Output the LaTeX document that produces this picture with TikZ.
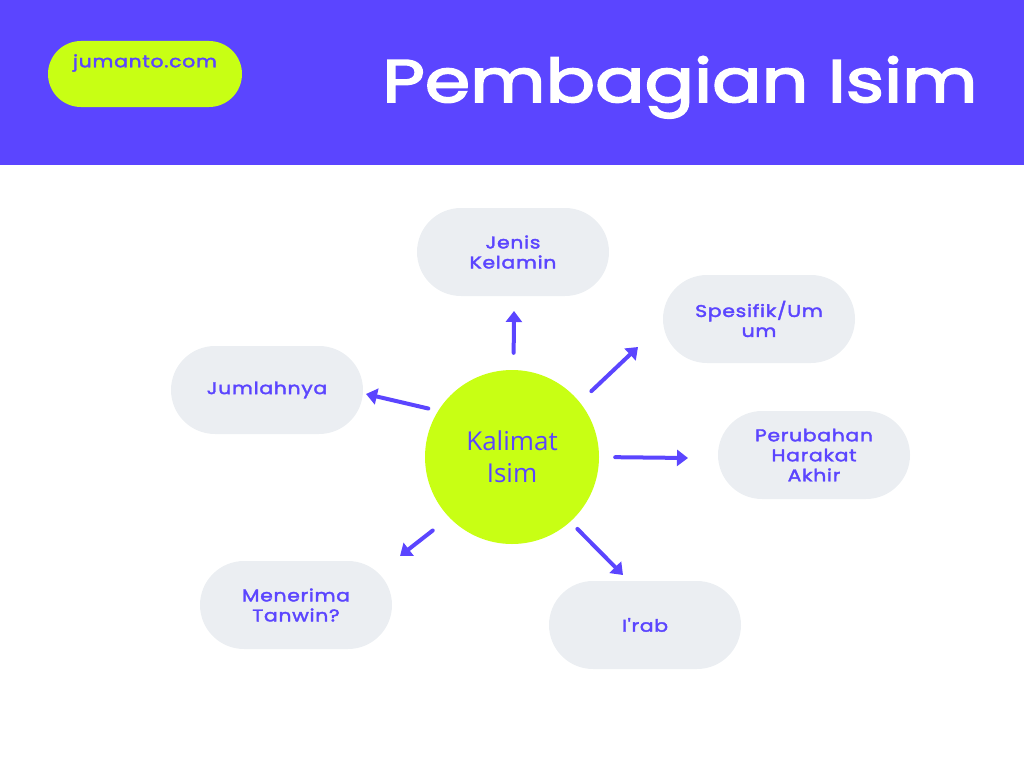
\documentclass[tikz,border=0pt]{standalone}
\usepackage{fontspec}
\setmainfont{Poppins}
\newfontfamily\titlefont{Poppins}[FakeStretch=1.22,FakeBold=3]
\newfontfamily\pillfont{Poppins}[FakeStretch=1.2,LetterSpace=4,FakeBold=2.2]
\newfontfamily\centrefont{Open Sans}
\usetikzlibrary{arrows.meta}

\definecolor{jviolet}{HTML}{5B45FF}
\definecolor{jlime}{HTML}{C8FF14}
\definecolor{jgrey}{HTML}{EBEEF2}

\begin{document}
\begin{tikzpicture}[
    x=1pt, y=-1pt,
    pill/.style={rectangle, rounded corners=44pt, fill=jgrey, minimum width=192pt, minimum height=88pt, align=center, text=jviolet, font=\pillfont\fontsize{17}{20}\selectfont},
    site/.style={rectangle, rounded corners=33pt, fill=jlime, minimum width=194pt, minimum height=66pt},
    hub/.style={circle, fill=jlime, minimum size=174pt, inner sep=0pt, align=center, text=jviolet, font=\centrefont\fontsize{26}{32}\selectfont},
    arrow/.style={-{Triangle[width=16pt,length=11pt]}, line width=4pt, line cap=round, draw=jviolet}
]
\useasboundingbox (0,0) rectangle (1024,768);

% Header band
\fill[jviolet] (0,0) rectangle (1024,165);
\node[site, label={[text=jviolet, font=\pillfont\fontsize{17}{20}\selectfont, yshift=11pt]center:jumanto.com}] (site) at (145,74) {};
\node[anchor=base, text=white, font=\titlefont\fontsize{60}{60}\selectfont] (title) at (680,102) {Pembagian Isim};

% Centre
\node[hub] (kal) at (512,457) {Kalimat\\Isim};

% Branches
\node[pill] (jenis) at (513,252) {Jenis\\Kelamin};
\node[pill] (spes) at (759,319) {Spesifik/Um\\um};
\node[pill] (jml) at (267,390) {Jumlahnya};
\node[pill] (ubah) at (814,455) {Perubahan\\Harakat\\Akhir};
\node[pill] (tanwin) at (296,605) {Menerima\\Tanwin?};
\node[pill] (irab) at (645,625) {I'rab};

% Arrow tips
\coordinate (tjenis) at (514,311);
\coordinate (tspes) at (638,347);
\coordinate (tjml) at (366,394);
\coordinate (tubah) at (688,458);
\coordinate (ttanwin) at (400,556);
\coordinate (tirab) at (623,575);

% Arrows
\draw[arrow, shorten <=17pt] (kal.89) -- (tjenis);
\draw[arrow, shorten <=16pt] (kal.39) -- (tspes);
\draw[arrow, shorten <=10pt] (kal.148) -- (tjml);
\draw[arrow, shorten <=16pt] (kal.0) -- (tubah);
\draw[arrow, shorten <=21pt] (kal.224) -- (ttanwin);
\draw[arrow, shorten <=10pt] (kal.312) -- (tirab);

\end{tikzpicture}
\end{document}
